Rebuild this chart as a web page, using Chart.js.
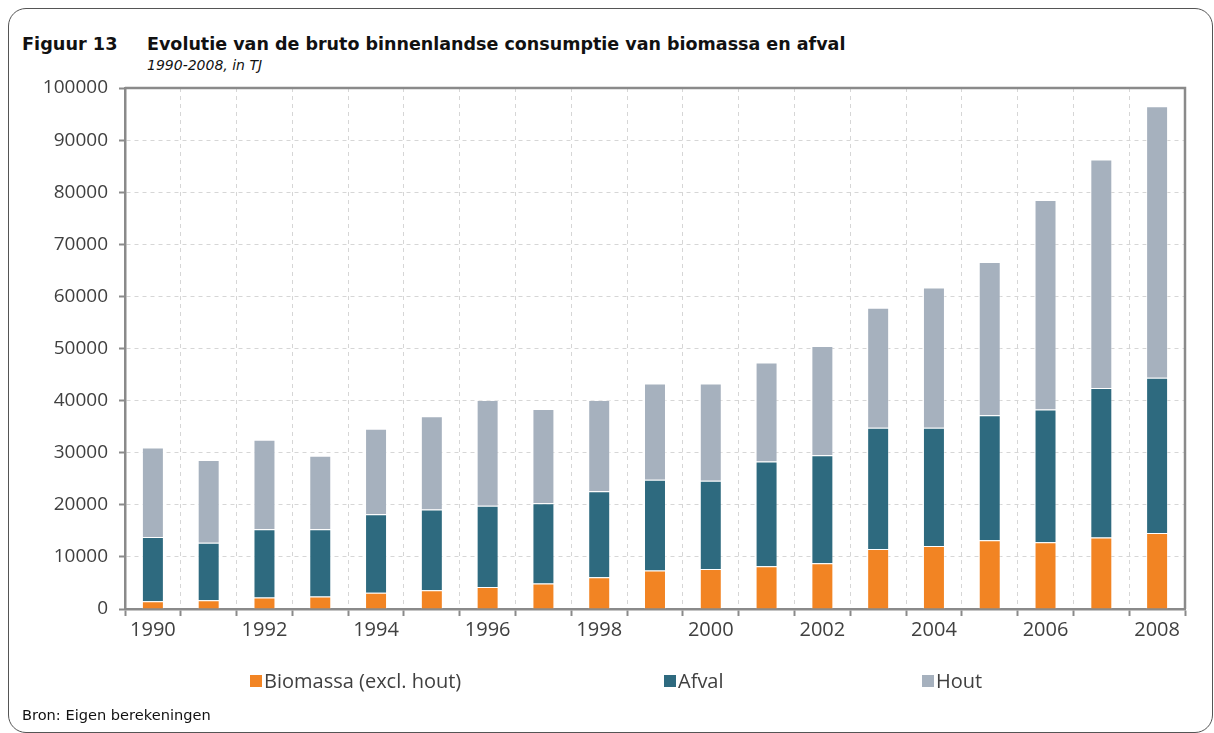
<!DOCTYPE html>
<html lang="nl">
<head>
<meta charset="utf-8">
<title>Figuur 13</title>
<script src="https://cdn.jsdelivr.net/npm/chart.js@4/dist/chart.umd.min.js"></script>
<style>
  body { margin: 0; background: #fff; width: 1214px; height: 733px; overflow: hidden; position: relative; font-family: "DejaVu Sans", sans-serif; }
  .kader { position: absolute; left: 8px; top: 8px; width: 1203px; height: 723px; border: 1px solid #555; border-radius: 18px; }
  .figuur { position: absolute; left: 22px; top: 34px; font-size: 17.7px; font-weight: bold; color: #111; }
  .titel { position: absolute; left: 147px; top: 34px; font-size: 17.5px; font-weight: bold; color: #111; }
  .subtitel { position: absolute; left: 147px; top: 57px; font-size: 14px; font-style: italic; color: #111; }
  .bron { position: absolute; left: 22px; top: 706px; font-size: 14.6px; color: #111; }
  #legende { position: absolute; top: 667px; left: 0; width: 1214px; height: 26px; font-family: "Open Sans", sans-serif; font-size: 20px; color: #404040; }
  #legende span.item { position: absolute; white-space: nowrap; }
  #legende span.blok { display: inline-block; width: 12px; height: 12px; margin-right: 2px; vertical-align: 1px; }
  canvas { position: absolute; left: 0; top: 0; }
</style>
</head>
<body>
<div class="kader"></div>
<div class="figuur">Figuur 13</div>
<div class="titel">Evolutie van de bruto binnenlandse consumptie van biomassa en afval</div>
<div class="subtitel">1990-2008, in TJ</div>
<div id="grafiekBox" style="position:absolute;left:0;top:0;width:1214px;height:733px;">
  <canvas id="grafiek"></canvas>
</div>
<div id="legende"></div>
<div class="bron">Bron: Eigen berekeningen</div>

<script>
const jaren = ["1990", "1991", "1992", "1993", "1994", "1995", "1996", "1997", "1998", "1999",
  "2000", "2001", "2002", "2003", "2004", "2005", "2006", "2007", "2008"];

// waarden in TJ
const biomassa = [1500, 1700, 2200, 2400, 3100, 3600, 4200, 4900, 6100, 7400,
  7700, 8200, 8800, 11500, 12100, 13200, 12800, 13700, 14600];
const afval = [12300, 11000, 13100, 12900, 15100, 15500, 15600, 15400, 16500, 17400,
  16900, 20100, 20700, 23300, 22700, 24000, 25500, 28700, 29800];
const hout = [17200, 15900, 17200, 14100, 16400, 17900, 20300, 18100, 17500, 18500,
  18700, 19000, 21000, 23000, 26900, 29400, 40200, 43900, 52100];

const yTicks = [0, 10000, 20000, 30000, 40000, 50000, 60000, 70000, 80000, 90000, 100000];

const reeksen = [
  { naam: "Biomassa (excl. hout)", data: biomassa, kleur: "#f28423", links: 250 },
  { naam: "Afval", data: afval, kleur: "#2e6a7f", links: 664 },
  { naam: "Hout", data: hout, kleur: "#a6b1be", links: 922 },
];

const asKleur = "#8a8a8a";
const rasterKleur = "#d6d6d6";

// rand boven en rechts van het plotgebied
const kaderPlugin = {
  id: "kaderPlugin",
  afterDraw(chart) {
    const { ctx, chartArea } = chart;
    ctx.save();
    ctx.strokeStyle = asKleur;
    ctx.lineWidth = 2.5;
    ctx.beginPath();
    ctx.moveTo(chartArea.left, chartArea.top);
    ctx.lineTo(chartArea.right, chartArea.top);
    ctx.lineTo(chartArea.right, chartArea.bottom);
    ctx.stroke();
    ctx.restore();
  },
};

const ctx = document.getElementById("grafiek").getContext("2d");
const grafiek = new Chart(ctx, {
  type: "bar",
  data: {
    labels: jaren,
    datasets: reeksen.map((r) => ({
      label: r.naam,
      data: r.data,
      backgroundColor: r.kleur,
      borderColor: "rgba(255,255,255,0.45)",
      borderWidth: 1,
      borderSkipped: "start",
      categoryPercentage: 1,
      barPercentage: 0.394,
    })),
  },
  options: {
    responsive: true,
    maintainAspectRatio: false,
    animation: false,
    layout: { padding: { top: 88, right: 29, bottom: 84, left: 20 } },
    plugins: {
      legend: { display: false },
      tooltip: { enabled: false },
    },
    scales: {
      x: {
        stacked: true,
        afterFit: (scale) => { scale.height = 40; },
        border: { color: asKleur, width: 2.5, dash: [4, 4] },
        grid: {
          offset: true,
          color: rasterKleur,
          lineWidth: 1,
          tickColor: asKleur,
          tickWidth: 2,
          tickLength: 7,
          tickBorderDash: [],
        },
        ticks: {
          autoSkip: false,
          maxRotation: 0,
          padding: 2,
          color: "#404040",
          font: { family: "Open Sans", size: 20 },
          callback: (val, i) => (i % 2 === 0 ? jaren[i] : ""),
        },
      },
      y: {
        stacked: true,
        min: 0,
        max: 100000,
        afterFit: (scale) => { scale.width = 105; },
        afterBuildTicks: (scale) => { scale.ticks = yTicks.map((v) => ({ value: v })); },
        border: { color: asKleur, width: 2.5, dash: [4, 4] },
        grid: {
          color: rasterKleur,
          lineWidth: 1,
          tickColor: asKleur,
          tickWidth: 2,
          tickLength: 6,
          tickBorderDash: [],
        },
        ticks: {
          padding: 11,
          color: "#404040",
          font: { family: "Open Sans", size: 19 },
          callback: (val) => String(val),
        },
      },
    },
  },
  plugins: [kaderPlugin],
});

// legenda als gewone tekst
const legende = document.getElementById("legende");
reeksen.forEach((r) => {
  const item = document.createElement("span");
  item.className = "item";
  item.style.left = r.links + "px";
  const blok = document.createElement("span");
  blok.className = "blok";
  blok.style.background = r.kleur;
  item.appendChild(blok);
  item.appendChild(document.createTextNode(r.naam));
  legende.appendChild(item);
});
</script>
</body>
</html>
